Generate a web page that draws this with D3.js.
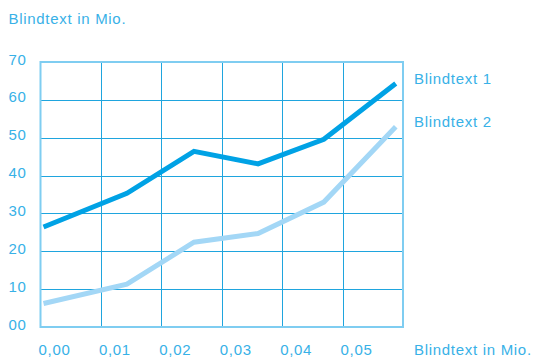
<!DOCTYPE html>
<html>
<head>
<meta charset="utf-8">
<script src="https://cdn.jsdelivr.net/npm/d3@7"></script>
<style>
  html, body { margin: 0; padding: 0; background: #fff; }
  svg { display: block; }
  text { font-family: "Liberation Sans", Arial, Helvetica, sans-serif; font-size: 15px; letter-spacing: 0.7px; fill: #38b1e7; }
</style>
</head>
<body>
<svg id="chart" width="534" height="358"></svg>
<script>
// Data
const xValues = [0.0005, 0.0143, 0.0254, 0.0360, 0.0469, 0.0588];
const series1 = [26.4, 35.3, 46.4, 43.1, 49.6, 64.3];
const series2 = [6.2, 11.3, 22.4, 24.7, 33.0, 52.9];
const seriesNames = ["Blindtext 1", "Blindtext 2"];
const xTicks = [0, 0.01, 0.02, 0.03, 0.04, 0.05];
const xTickLabels = ["0,00", "0,01", "0,02", "0,03", "0,04", "0,05"];
const yTicks = [0, 10, 20, 30, 40, 50, 60, 70];
const yTickLabels = ["00", "10", "20", "30", "40", "50", "60", "70"];
const axisTitle = "Blindtext in Mio.";

const svg = d3.select("#chart");
const plot = { left: 40.5, right: 403, top: 62, bottom: 327 };

const x = d3.scaleLinear().domain([0, 0.06]).range([plot.left, plot.right]);
const y = d3.scaleLinear().domain([0, 70]).range([plot.bottom, plot.top]);

// Grid lines
const grid = svg.append("g");
grid.selectAll("line.v").data(xTicks.slice(1)).join("line")
  .attr("x1", d => Math.round(x(d)) + 0.5).attr("x2", d => Math.round(x(d)) + 0.5)
  .attr("y1", plot.top).attr("y2", plot.bottom)
  .attr("stroke", "#1fa5de").attr("stroke-width", 1);
grid.selectAll("line.h").data(yTicks.slice(1, -1)).join("line")
  .attr("x1", plot.left).attr("x2", plot.right)
  .attr("y1", d => Math.round(y(d)) + 0.5).attr("y2", d => Math.round(y(d)) + 0.5)
  .attr("stroke", "#1fa5de").attr("stroke-width", 1);

// Frame
svg.append("rect")
  .attr("x", plot.left).attr("y", plot.top)
  .attr("width", plot.right - plot.left).attr("height", plot.bottom - plot.top)
  .attr("fill", "none").attr("stroke", "#7fcdf1").attr("stroke-width", 2);

// Y tick labels
svg.append("g").selectAll("text").data(yTicks).join("text")
  .attr("x", 8.5).attr("y", d => y(d) + 2.5)
  .text((d, i) => yTickLabels[i]);

// X tick labels
svg.append("g").selectAll("text").data(xTicks).join("text")
  .attr("x", d => x(d) - 2).attr("y", 354.5)
  .text((d, i) => xTickLabels[i]);

// Axis titles
svg.append("text").attr("x", 8.5).attr("y", 24).text(axisTitle);
svg.append("text").attr("x", 414).attr("y", 354.5).text(axisTitle);

// Lines
const line = d3.line().x(d => x(d[0])).y(d => y(d[1]));
const data = [
  { name: seriesNames[0], values: series1, color: "#00a2e5" },
  { name: seriesNames[1], values: series2, color: "#a3d7f6" }
];
// draw lighter series first
data.slice().reverse().forEach(s => {
  svg.append("path")
    .datum(xValues.map((xv, i) => [xv, s.values[i]]))
    .attr("d", line)
    .attr("fill", "none")
    .attr("stroke", s.color)
    .attr("stroke-width", 5)
    .attr("stroke-linecap", "butt")
    .attr("stroke-linejoin", "miter");
});

// Series labels at line ends
svg.append("g").selectAll("text").data(data).join("text")
  .attr("x", 414)
  .attr("y", d => y(d.values[d.values.length - 1]) + 0.5)
  .text(d => d.name);
</script>
</body>
</html>
